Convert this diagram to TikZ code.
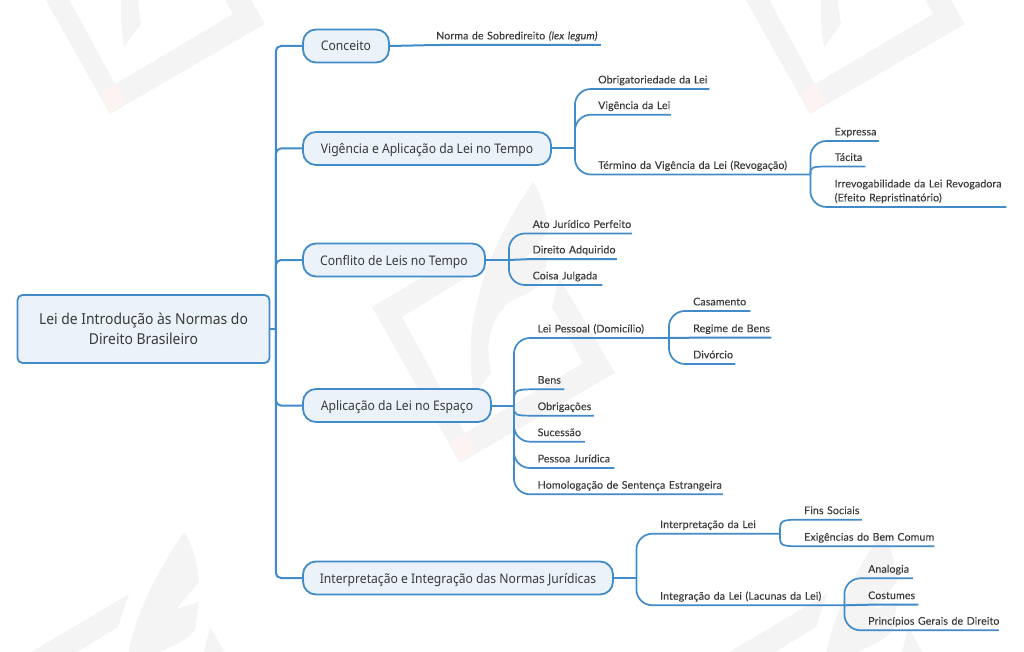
\documentclass[tikz,border=0pt]{standalone}
\usepackage{fontspec}
\setmainfont[FakeStretch=0.92]{Noto Sans}
\newfontfamily\subfont[LetterSpace=1,FakeBold=0.05]{Lato}
\definecolor{wire}{HTML}{418BC9}
\definecolor{pale}{HTML}{EBF2F9}
\definecolor{ink}{HTML}{3A3A3A}
\definecolor{wmgray}{HTML}{F4F4F4}
\definecolor{wmred}{HTML}{FDF3F2}
\newcommand{\lb}[1]{\mbox{#1}}
\tikzset{
  rootbox/.style={draw=wire,fill=pale,line width=1.8pt,rounded corners=5pt,text=ink,align=center,font=\fontsize{15.1}{20}\selectfont,minimum width=252pt,minimum height=68pt,inner sep=0pt},
  topic/.style={draw=wire,fill=pale,line width=1.8pt,rounded corners=13pt,text=ink,font=\fontsize{13.2}{16}\selectfont,minimum height=33pt,inner sep=0pt,text height=10pt,text depth=0pt},
  leaf/.style={anchor=south west,inner xsep=0pt,inner ysep=1.2pt,text=ink,align=left,text width=#1,
    font=\subfont\fontsize{10.6}{14}\selectfont,execute at begin node=\strut,execute at end node=\strut},
  wirem/.style={draw=wire,line width=2pt,rounded corners=5pt},
  wires/.style={draw=wire,line width=1.7pt,rounded corners=16pt},
  wiref/.style={draw=wire,line width=1.7pt},
}
\newcommand{\wmtile}[2]{%
  \begin{scope}[shift={(#1,#2)}]
    \fill[wmgray] (372,307) -- (478,244) -- (467,277) -- (402,317) -- (465,433) -- (583,363) -- (552,307) -- (559,277) -- (615,373) -- (460,463) -- cycle;
    \fill[wmgray] (533,182) .. controls (542,195) and (547,215) .. (548,232) -- (525,259) -- (548,252) -- (544,280)
       .. controls (535,292) and (520,296) .. (509,302) .. controls (495,315) and (486,335) .. (489,359) -- (491,373) -- (474,396)
       .. controls (468,360) and (470,325) .. (478,300) .. controls (485,262) and (510,215) .. (533,182) -- cycle;
    \fill[wmred] (450,442) -- (465,433) -- (477,450) -- (460,463) -- cycle;
  \end{scope}}
\begin{document}
\begin{tikzpicture}[x=1pt,y=-1pt]
\useasboundingbox (0,0) rectangle (1024,652);
\begin{scope}
  \clip (0,0) rectangle (1024,652);
  \wmtile{0}{0}
  \wmtile{-350}{-349}
  \wmtile{350}{-349}
  \wmtile{-349}{350}
  \wmtile{349}{350}
\end{scope}

% root and topics
\node[rootbox] (root) at (143.5,329) {Lei de Introdução às Normas do\\Direito Brasileiro};
\node[topic,minimum width=86pt]  (t1) at (346,46)    {Conceito};
\node[topic,minimum width=248pt] (t2) at (427,148.5) {Vigência e Aplicação da Lei no Tempo};
\node[topic,minimum width=182pt] (t3) at (394,260)   {Conflito de Leis no Tempo};
\node[topic,minimum width=188pt] (t4) at (397,405.5) {Aplicação da Lei no Espaço};
\node[topic,minimum width=310pt] (t5) at (458,578)   {Interpretação e Integração das Normas Jurídicas};

% leaves
\node[leaf=164.5pt] (a1) at (436,45) {\lb{Norma de Sobredireito \textit{(lex legum)}}};

\node[leaf=111pt] (b1) at (598,89)    {\lb{Obrigatoriedade da Lei}};
\node[leaf=72.5pt] (b2) at (598,114.7) {\lb{Vigência da Lei}};
\node[leaf=212pt] (b3) at (598,174.5) {\lb{Término da Vigência da Lei (Revogação)}};
\node[leaf=44pt]  (b31) at (834.5,141) {\lb{Expressa}};
\node[leaf=30.5pt] (b32) at (834.5,166.5) {\lb{Tácita}};
\node[leaf=171.5pt] (b33) at (834.5,207) {\lb{Irrevogabilidade da Lei Revogadora}\\\lb{(Efeito Repristinatório)}};

\node[leaf=99pt] (c1) at (532.5,233.5) {\lb{Ato Jurídico Perfeito}};
\node[leaf=84pt] (c2) at (532.5,259)   {\lb{Direito Adquirido}};
\node[leaf=69.5pt] (c3) at (532.5,285) {\lb{Coisa Julgada}};

\node[leaf=131pt] (d1) at (537.5,338) {\lb{Lei Pessoal (Domicílio)}};
\node[leaf=57pt]  (d11) at (693,311)  {\lb{Casamento}};
\node[leaf=78pt]  (d12) at (693,337.7) {\lb{Regime de Bens}};
\node[leaf=42pt]  (d13) at (693,364)  {\lb{Divórcio}};
\node[leaf=26.5pt] (d2) at (537.5,389.3) {\lb{Bens}};
\node[leaf=56pt]  (d3) at (537.5,415.7) {\lb{Obrigações}};
\node[leaf=47pt]  (d4) at (537.5,441.7) {\lb{Sucessão}};
\node[leaf=76.5pt] (d5) at (537.5,468) {\lb{Pessoa Jurídica}};
\node[leaf=185pt] (d6) at (537.5,494.3) {\lb{Homologação de Sentença Estrangeira}};

\node[leaf=119.5pt] (e1) at (660,533.7) {\lb{Interpretação da Lei}};
\node[leaf=184pt] (e2) at (660,605.3) {\lb{Integração da Lei (Lacunas da Lei)}};
\node[leaf=57.5pt] (e11) at (804,519.7) {\lb{Fins Sociais}};
\node[leaf=130pt] (e12) at (804,546.3) {\lb{Exigências do Bem Comum}};
\node[leaf=44.5pt] (e21) at (868,578.3) {\lb{Analogia}};
\node[leaf=50pt]  (e22) at (868,604.7) {\lb{Costumes}};
\node[leaf=130.5pt] (e23) at (868,630.3) {\lb{Princípios Gerais de Direito}};

% forks
\path (root.east) -- ++(5.5,0) coordinate (f0);
\path (t2.east) -- ++(23,0) coordinate (f2);
\path (t3.east) -- ++(23,0) coordinate (f3);
\path (t4.east) -- ++(22,0) coordinate (f4);
\path (t5.east) -- ++(22.5,0) coordinate (f5);

% connectors
\draw[wirem] (root.east) -- (f0);
\foreach \t in {t1,t2,t3,t4,t5} { \draw[wirem] (f0) |- (\t.west); }

\draw[wirem] (t1.east) -- (a1.south west) -- (a1.south east);

\draw[wirem] (t2.east) -- (f2);
\foreach \l in {b1,b2,b3} { \draw[wires] (f2) |- (\l.south east); }
\foreach \l in {b31,b33} { \draw[wires] (b3.south east) |- (\l.south east); }
\draw[wiref] (b3.south east) .. controls (b3.south east |- b32.south west) .. (b32.south west) -- (b32.south east);

\draw[wirem] (t3.east) -- (f3);
\foreach \l in {c1,c3} { \draw[wires] (f3) |- (\l.south east); }
\draw[wirem] (f3) -- (c2.south west) -- (c2.south east);

\draw[wirem] (t4.east) -- (f4);
\foreach \l in {d1,d4,d5,d6} { \draw[wires] (f4) |- (\l.south east); }
\foreach \l in {d2,d3} { \draw[wiref] (f4) .. controls (f4 |- \l.south west) .. (\l.south west) -- (\l.south east); }
\foreach \l in {d11,d13} { \draw[wires] (d1.south east) |- (\l.south east); }
\draw[wirem] (d1.south east) -- (d12.south west) -- (d12.south east);

\draw[wirem] (t5.east) -- (f5);
\foreach \l in {e1,e2} { \draw[wires] (f5) |- (\l.south east); }
\foreach \l in {e11,e12} { \draw[wiref] (e1.south east) .. controls (e1.south east |- \l.south west) .. (\l.south west) -- (\l.south east); }
\foreach \l in {e21,e23} { \draw[wires] (e2.south east) |- (\l.south east); }
\draw[wirem] (e2.south east) -- (e22.south west) -- (e22.south east);
\end{tikzpicture}
\end{document}
